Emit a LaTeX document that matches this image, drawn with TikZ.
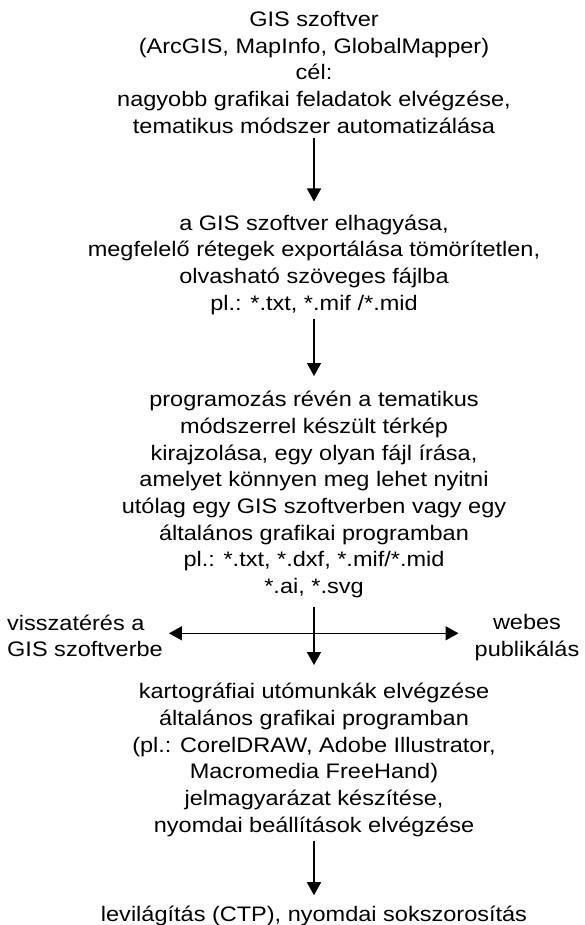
\documentclass[tikz,border=0pt]{standalone}
\usepackage{fontspec}
\setmainfont[FakeStretch=1.12]{Liberation Sans}
\usetikzlibrary{arrows.meta}
\begin{document}
\begin{tikzpicture}[x=1pt,y=-1pt,
  blk/.style={align=center, inner sep=0pt, anchor=north, font=\fontsize{21}{26.67}\selectfont},
  side/.style={inner sep=0pt, anchor=north, font=\fontsize{21}{26.67}\selectfont},
  arr/.style={line width=1.5pt, -{Triangle[width=14pt,length=13pt]}}]
\useasboundingbox (0,0) rectangle (584,925);
\node[blk] (b1) at (314,11.2) {GIS szoftver\\(ArcGIS, MapInfo, GlobalMapper)\\cél:\\nagyobb grafikai feladatok elvégzése,\\tematikus módszer automatizálása};
\node[blk] (b2) at (314,214.5) {a GIS szoftver elhagyása,\\megfelelő rétegek exportálása tömörítetlen,\\olvasható szöveges fájlba\\pl.: *.txt, *.mif /*.mid};
\node[blk] (b3) at (314,391) {programozás révén a tematikus\\módszerrel készült térkép\\kirajzolása, egy olyan fájl írása,\\amelyet könnyen meg lehet nyitni\\utólag egy GIS szoftverben vagy egy\\általános grafikai programban\\pl.: *.txt, *.dxf, *.mif/*.mid\\*.ai, *.svg};
\node[side, align=left, anchor=north west] (left) at (7,614.5) {visszatérés a\\GIS szoftverbe};
\node[side, align=center] (right) at (527,614.5) {webes\\publikálás};
\node[blk] (b4) at (314,683) {kartográfiai utómunkák elvégzése\\általános grafikai programban\\(pl.: CorelDRAW, Adobe Illustrator,\\Macromedia FreeHand)\\jelmagyarázat készítése,\\nyomdai beállítások elvégzése};
\node[blk] (b5) at (314,906.2) {levilágítás (CTP), nyomdai sokszorosítás};
\coordinate (hc) at (314,633.3);
\draw[arr, shorten <=4pt, shorten >=13pt] (b1.south) -- (b2.north);
\draw[arr, shorten <=4pt, shorten >=15pt] (b2.south) -- (b3.north);
\draw[arr, shorten <=9pt, shorten >=18pt] (b3.south) -- (b4.north);
\draw[arr, shorten >=6pt] (hc) -- (left.east |- hc);
\draw[arr, shorten >=16pt] (hc) -- (right.west |- hc);
\draw[arr, shorten <=4pt, shorten >=11pt] (b4.south) -- (b5.north);
\end{tikzpicture}
\end{document}
